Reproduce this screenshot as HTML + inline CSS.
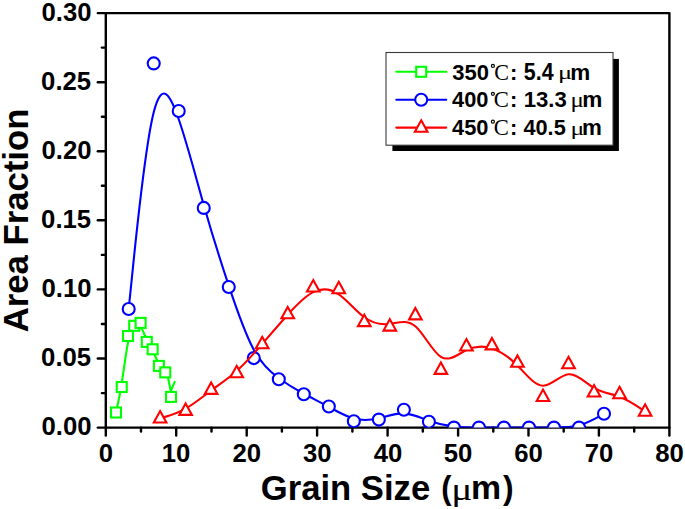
<!DOCTYPE html><html><head><meta charset="utf-8"><style>html,body{margin:0;padding:0;background:#fff;width:685px;height:509px;overflow:hidden}svg{display:block}</style></head><body>
<svg width="685" height="509" viewBox="0 0 685 509">
<rect x="105.8" y="13.1" width="563.6" height="414.5" fill="none" stroke="#000" stroke-width="2.4" stroke-linejoin="round"/>
<line x1="105.8" y1="427.6" x2="105.8" y2="435.6" stroke="#000" stroke-width="2.4" stroke-linecap="round"/>
<line x1="141.0" y1="427.6" x2="141.0" y2="431.5" stroke="#000" stroke-width="2.4" stroke-linecap="round"/>
<line x1="176.2" y1="427.6" x2="176.2" y2="435.6" stroke="#000" stroke-width="2.4" stroke-linecap="round"/>
<line x1="211.5" y1="427.6" x2="211.5" y2="431.5" stroke="#000" stroke-width="2.4" stroke-linecap="round"/>
<line x1="246.7" y1="427.6" x2="246.7" y2="435.6" stroke="#000" stroke-width="2.4" stroke-linecap="round"/>
<line x1="281.9" y1="427.6" x2="281.9" y2="431.5" stroke="#000" stroke-width="2.4" stroke-linecap="round"/>
<line x1="317.1" y1="427.6" x2="317.1" y2="435.6" stroke="#000" stroke-width="2.4" stroke-linecap="round"/>
<line x1="352.4" y1="427.6" x2="352.4" y2="431.5" stroke="#000" stroke-width="2.4" stroke-linecap="round"/>
<line x1="387.6" y1="427.6" x2="387.6" y2="435.6" stroke="#000" stroke-width="2.4" stroke-linecap="round"/>
<line x1="422.8" y1="427.6" x2="422.8" y2="431.5" stroke="#000" stroke-width="2.4" stroke-linecap="round"/>
<line x1="458.1" y1="427.6" x2="458.1" y2="435.6" stroke="#000" stroke-width="2.4" stroke-linecap="round"/>
<line x1="493.3" y1="427.6" x2="493.3" y2="431.5" stroke="#000" stroke-width="2.4" stroke-linecap="round"/>
<line x1="528.5" y1="427.6" x2="528.5" y2="435.6" stroke="#000" stroke-width="2.4" stroke-linecap="round"/>
<line x1="563.7" y1="427.6" x2="563.7" y2="431.5" stroke="#000" stroke-width="2.4" stroke-linecap="round"/>
<line x1="598.9" y1="427.6" x2="598.9" y2="435.6" stroke="#000" stroke-width="2.4" stroke-linecap="round"/>
<line x1="634.2" y1="427.6" x2="634.2" y2="431.5" stroke="#000" stroke-width="2.4" stroke-linecap="round"/>
<line x1="669.4" y1="427.6" x2="669.4" y2="435.6" stroke="#000" stroke-width="2.4" stroke-linecap="round"/>
<line x1="105.8" y1="427.6" x2="97.8" y2="427.6" stroke="#000" stroke-width="2.4" stroke-linecap="round"/>
<line x1="105.8" y1="393.1" x2="101.9" y2="393.1" stroke="#000" stroke-width="2.4" stroke-linecap="round"/>
<line x1="105.8" y1="358.5" x2="97.8" y2="358.5" stroke="#000" stroke-width="2.4" stroke-linecap="round"/>
<line x1="105.8" y1="324.0" x2="101.9" y2="324.0" stroke="#000" stroke-width="2.4" stroke-linecap="round"/>
<line x1="105.8" y1="289.4" x2="97.8" y2="289.4" stroke="#000" stroke-width="2.4" stroke-linecap="round"/>
<line x1="105.8" y1="254.9" x2="101.9" y2="254.9" stroke="#000" stroke-width="2.4" stroke-linecap="round"/>
<line x1="105.8" y1="220.3" x2="97.8" y2="220.3" stroke="#000" stroke-width="2.4" stroke-linecap="round"/>
<line x1="105.8" y1="185.8" x2="101.9" y2="185.8" stroke="#000" stroke-width="2.4" stroke-linecap="round"/>
<line x1="105.8" y1="151.3" x2="97.8" y2="151.3" stroke="#000" stroke-width="2.4" stroke-linecap="round"/>
<line x1="105.8" y1="116.7" x2="101.9" y2="116.7" stroke="#000" stroke-width="2.4" stroke-linecap="round"/>
<line x1="105.8" y1="82.2" x2="97.8" y2="82.2" stroke="#000" stroke-width="2.4" stroke-linecap="round"/>
<line x1="105.8" y1="47.6" x2="101.9" y2="47.6" stroke="#000" stroke-width="2.4" stroke-linecap="round"/>
<line x1="105.8" y1="13.1" x2="97.8" y2="13.1" stroke="#000" stroke-width="2.4" stroke-linecap="round"/>
<defs><clipPath id="pc"><rect x="105.8" y="13.1" width="563.60" height="414.50"/></clipPath></defs>
<g clip-path="url(#pc)" stroke-linecap="round" stroke-linejoin="round">
<path d="M116.00,412.50 C116.00,412.50 116.00,412.50 116.96,408.25 C117.92,404.00 119.83,395.50 121.83,382.75 C123.83,370.00 125.92,353.00 127.99,342.80 C130.07,332.60 132.13,329.20 134.23,327.02 C136.33,324.83 138.47,323.87 140.57,326.55 C142.67,329.23 144.73,335.57 146.74,339.97 C148.75,344.37 150.70,346.83 152.72,350.83 C154.73,354.83 156.82,360.37 158.92,364.22 C161.02,368.07 163.13,370.23 164.19,371.32 C165.25,372.40 165.25,372.40 165.25,372.40 L167.6,375.5 L170.8,391.2 L174.7,381.8" fill="none" stroke="#00ff00" stroke-width="2.1"/>
<rect x="111.00" y="407.50" width="10" height="10" fill="#fff" stroke="#00ff00" stroke-width="2.1" stroke-linejoin="miter"/>
<rect x="116.75" y="382.00" width="10" height="10" fill="#fff" stroke="#00ff00" stroke-width="2.1" stroke-linejoin="miter"/>
<rect x="123.00" y="331.00" width="10" height="10" fill="#fff" stroke="#00ff00" stroke-width="2.1" stroke-linejoin="miter"/>
<rect x="129.20" y="320.80" width="10" height="10" fill="#fff" stroke="#00ff00" stroke-width="2.1" stroke-linejoin="miter"/>
<rect x="135.60" y="317.90" width="10" height="10" fill="#fff" stroke="#00ff00" stroke-width="2.1" stroke-linejoin="miter"/>
<rect x="141.80" y="336.90" width="10" height="10" fill="#fff" stroke="#00ff00" stroke-width="2.1" stroke-linejoin="miter"/>
<rect x="147.65" y="344.30" width="10" height="10" fill="#fff" stroke="#00ff00" stroke-width="2.1" stroke-linejoin="miter"/>
<rect x="153.90" y="360.90" width="10" height="10" fill="#fff" stroke="#00ff00" stroke-width="2.1" stroke-linejoin="miter"/>
<rect x="160.25" y="367.40" width="10" height="10" fill="#fff" stroke="#00ff00" stroke-width="2.1" stroke-linejoin="miter"/>
<rect x="166.00" y="391.90" width="10" height="10" fill="#fff" stroke="#00ff00" stroke-width="2.1" stroke-linejoin="miter"/>
<path d="M128.70,309.00 C128.70,309.00 128.70,309.00 132.87,268.07 C137.04,227.13 145.38,145.27 153.72,112.27 C162.05,79.27 170.39,95.13 178.73,119.22 C187.07,143.30 195.41,175.60 203.75,204.93 C212.09,234.27 220.43,260.63 228.76,285.67 C237.10,310.70 245.44,334.40 253.78,349.78 C262.12,365.17 270.46,372.23 278.80,378.25 C287.13,384.27 295.47,389.23 303.81,393.77 C312.15,398.30 320.49,402.40 328.83,406.92 C337.17,411.43 345.51,416.37 353.84,418.55 C362.18,420.73 370.52,420.17 378.86,418.23 C387.20,416.30 395.54,413.00 403.88,413.37 C412.21,413.73 420.55,417.77 428.89,420.75 C437.23,423.73 445.57,425.67 453.91,426.63 C462.25,427.60 470.59,427.60 478.92,427.60 C487.26,427.60 495.60,427.60 503.94,427.60 C512.28,427.60 520.62,427.60 528.96,427.60 C537.29,427.60 545.63,427.60 553.97,427.60 C562.31,427.60 570.65,427.60 578.99,425.30 C587.33,423.00 595.67,418.40 599.83,416.10 C604.00,413.80 604.00,413.80 604.00,413.80" fill="none" stroke="#0000ff" stroke-width="2.1"/>
<circle cx="128.70" cy="309.00" r="6" fill="#fff" stroke="#0000ff" stroke-width="2.1" stroke-linejoin="miter"/>
<circle cx="153.72" cy="63.40" r="6" fill="#fff" stroke="#0000ff" stroke-width="2.1" stroke-linejoin="miter"/>
<circle cx="178.73" cy="111.00" r="6" fill="#fff" stroke="#0000ff" stroke-width="2.1" stroke-linejoin="miter"/>
<circle cx="203.75" cy="207.90" r="6" fill="#fff" stroke="#0000ff" stroke-width="2.1" stroke-linejoin="miter"/>
<circle cx="228.76" cy="287.00" r="6" fill="#fff" stroke="#0000ff" stroke-width="2.1" stroke-linejoin="miter"/>
<circle cx="253.78" cy="358.10" r="6" fill="#fff" stroke="#0000ff" stroke-width="2.1" stroke-linejoin="miter"/>
<circle cx="278.80" cy="379.30" r="6" fill="#fff" stroke="#0000ff" stroke-width="2.1" stroke-linejoin="miter"/>
<circle cx="303.81" cy="394.20" r="6" fill="#fff" stroke="#0000ff" stroke-width="2.1" stroke-linejoin="miter"/>
<circle cx="328.83" cy="406.50" r="6" fill="#fff" stroke="#0000ff" stroke-width="2.1" stroke-linejoin="miter"/>
<circle cx="353.84" cy="421.30" r="6" fill="#fff" stroke="#0000ff" stroke-width="2.1" stroke-linejoin="miter"/>
<circle cx="378.86" cy="419.60" r="6" fill="#fff" stroke="#0000ff" stroke-width="2.1" stroke-linejoin="miter"/>
<circle cx="403.88" cy="409.70" r="6" fill="#fff" stroke="#0000ff" stroke-width="2.1" stroke-linejoin="miter"/>
<circle cx="428.89" cy="421.80" r="6" fill="#fff" stroke="#0000ff" stroke-width="2.1" stroke-linejoin="miter"/>
<circle cx="453.91" cy="427.60" r="6" fill="#fff" stroke="#0000ff" stroke-width="2.1" stroke-linejoin="miter"/>
<circle cx="478.92" cy="427.60" r="6" fill="#fff" stroke="#0000ff" stroke-width="2.1" stroke-linejoin="miter"/>
<circle cx="503.94" cy="427.60" r="6" fill="#fff" stroke="#0000ff" stroke-width="2.1" stroke-linejoin="miter"/>
<circle cx="528.96" cy="427.60" r="6" fill="#fff" stroke="#0000ff" stroke-width="2.1" stroke-linejoin="miter"/>
<circle cx="553.97" cy="427.60" r="6" fill="#fff" stroke="#0000ff" stroke-width="2.1" stroke-linejoin="miter"/>
<circle cx="578.99" cy="427.60" r="6" fill="#fff" stroke="#0000ff" stroke-width="2.1" stroke-linejoin="miter"/>
<circle cx="604.00" cy="413.80" r="6" fill="#fff" stroke="#0000ff" stroke-width="2.1" stroke-linejoin="miter"/>
<path d="M160.10,418.40 C160.10,418.40 160.10,418.40 164.35,417.13 C168.61,415.87 177.12,413.33 185.63,408.57 C194.13,403.80 202.64,396.80 211.15,390.52 C219.66,384.23 228.17,378.67 236.68,371.05 C245.19,363.43 253.70,353.77 262.20,343.95 C270.71,334.13 279.22,324.17 287.73,314.72 C296.24,305.27 304.75,296.33 313.26,292.15 C321.76,287.97 330.27,288.53 338.78,294.30 C347.29,300.07 355.80,311.03 364.31,317.27 C372.82,323.50 381.33,325.00 389.83,323.88 C398.34,322.77 406.85,319.03 415.36,326.25 C423.87,333.47 432.38,351.63 440.89,356.82 C449.39,362.00 457.90,354.20 466.41,350.12 C474.92,346.03 483.43,345.67 491.94,348.38 C500.45,351.10 508.96,356.90 517.46,365.50 C525.97,374.10 534.48,385.50 542.99,385.73 C551.50,385.97 560.01,375.03 568.52,374.28 C577.02,373.53 585.53,382.97 594.04,387.97 C602.55,392.97 611.06,393.53 619.57,396.73 C628.08,399.93 636.59,405.77 640.84,408.68 C645.09,411.60 645.09,411.60 645.09,411.60" fill="none" stroke="#ff0000" stroke-width="2.1"/>
<path d="M160.10,411.10 L166.40,422.50 L153.80,422.50 Z" fill="#fff" stroke="#ff0000" stroke-width="2.1" stroke-linejoin="miter"/>
<path d="M185.63,403.50 L191.93,414.90 L179.33,414.90 Z" fill="#fff" stroke="#ff0000" stroke-width="2.1" stroke-linejoin="miter"/>
<path d="M211.15,382.50 L217.45,393.90 L204.85,393.90 Z" fill="#fff" stroke="#ff0000" stroke-width="2.1" stroke-linejoin="miter"/>
<path d="M236.68,365.80 L242.98,377.20 L230.38,377.20 Z" fill="#fff" stroke="#ff0000" stroke-width="2.1" stroke-linejoin="miter"/>
<path d="M262.20,336.80 L268.50,348.20 L255.90,348.20 Z" fill="#fff" stroke="#ff0000" stroke-width="2.1" stroke-linejoin="miter"/>
<path d="M287.73,306.90 L294.03,318.30 L281.43,318.30 Z" fill="#fff" stroke="#ff0000" stroke-width="2.1" stroke-linejoin="miter"/>
<path d="M313.26,280.10 L319.56,291.50 L306.96,291.50 Z" fill="#fff" stroke="#ff0000" stroke-width="2.1" stroke-linejoin="miter"/>
<path d="M338.78,281.80 L345.08,293.20 L332.48,293.20 Z" fill="#fff" stroke="#ff0000" stroke-width="2.1" stroke-linejoin="miter"/>
<path d="M364.31,314.70 L370.61,326.10 L358.01,326.10 Z" fill="#fff" stroke="#ff0000" stroke-width="2.1" stroke-linejoin="miter"/>
<path d="M389.83,319.20 L396.13,330.60 L383.53,330.60 Z" fill="#fff" stroke="#ff0000" stroke-width="2.1" stroke-linejoin="miter"/>
<path d="M415.36,308.00 L421.66,319.40 L409.06,319.40 Z" fill="#fff" stroke="#ff0000" stroke-width="2.1" stroke-linejoin="miter"/>
<path d="M440.89,362.50 L447.19,373.90 L434.59,373.90 Z" fill="#fff" stroke="#ff0000" stroke-width="2.1" stroke-linejoin="miter"/>
<path d="M466.41,339.10 L472.71,350.50 L460.11,350.50 Z" fill="#fff" stroke="#ff0000" stroke-width="2.1" stroke-linejoin="miter"/>
<path d="M491.94,338.00 L498.24,349.40 L485.64,349.40 Z" fill="#fff" stroke="#ff0000" stroke-width="2.1" stroke-linejoin="miter"/>
<path d="M517.46,355.40 L523.76,366.80 L511.16,366.80 Z" fill="#fff" stroke="#ff0000" stroke-width="2.1" stroke-linejoin="miter"/>
<path d="M542.99,389.60 L549.29,401.00 L536.69,401.00 Z" fill="#fff" stroke="#ff0000" stroke-width="2.1" stroke-linejoin="miter"/>
<path d="M568.52,356.80 L574.82,368.20 L562.22,368.20 Z" fill="#fff" stroke="#ff0000" stroke-width="2.1" stroke-linejoin="miter"/>
<path d="M594.04,385.10 L600.34,396.50 L587.74,396.50 Z" fill="#fff" stroke="#ff0000" stroke-width="2.1" stroke-linejoin="miter"/>
<path d="M619.57,386.80 L625.87,398.20 L613.27,398.20 Z" fill="#fff" stroke="#ff0000" stroke-width="2.1" stroke-linejoin="miter"/>
<path d="M645.09,404.30 L651.39,415.70 L638.79,415.70 Z" fill="#fff" stroke="#ff0000" stroke-width="2.1" stroke-linejoin="miter"/>
</g>
<rect x="392.4" y="58.9" width="226.5" height="92.1" fill="#000"/>
<rect x="386" y="52.5" width="227" height="92.7" fill="#fff" stroke="#3a3a3a" stroke-width="1.1"/>
<line x1="396.3" y1="71.8" x2="446.2" y2="71.8" stroke="#00ff00" stroke-width="2.1" stroke-linecap="round"/>
<rect x="416.20" y="66.80" width="10" height="10" fill="#fff" stroke="#00ff00" stroke-width="2.1" stroke-linejoin="miter"/>
<circle cx="492.9" cy="65.90" r="1.5" fill="none" stroke="#000" stroke-width="1.2"/>
<line x1="396.3" y1="99.69999999999999" x2="446.2" y2="99.69999999999999" stroke="#0000ff" stroke-width="2.1" stroke-linecap="round"/>
<circle cx="421.20" cy="99.70" r="6" fill="#fff" stroke="#0000ff" stroke-width="2.1" stroke-linejoin="miter"/>
<circle cx="492.9" cy="93.80" r="1.5" fill="none" stroke="#000" stroke-width="1.2"/>
<line x1="396.3" y1="127.6" x2="446.2" y2="127.6" stroke="#ff0000" stroke-width="2.1" stroke-linecap="round"/>
<path d="M421.20,120.30 L427.50,131.70 L414.90,131.70 Z" fill="#fff" stroke="#ff0000" stroke-width="2.1" stroke-linejoin="miter"/>
<circle cx="492.9" cy="121.70" r="1.5" fill="none" stroke="#000" stroke-width="1.2"/>
<text transform="translate(41.50,435.40) scale(1.0161,1.0446)" style="font-family:'Liberation Sans';font-weight:bold;font-size:25.3px">0.00</text>
<text transform="translate(41.09,366.37) scale(1.0161,1.0446)" style="font-family:'Liberation Sans';font-weight:bold;font-size:25.3px">0.05</text>
<text transform="translate(41.55,297.28) scale(1.0161,1.0446)" style="font-family:'Liberation Sans';font-weight:bold;font-size:25.3px">0.10</text>
<text transform="translate(41.09,228.20) scale(1.0161,1.0446)" style="font-family:'Liberation Sans';font-weight:bold;font-size:25.3px">0.15</text>
<text transform="translate(41.55,159.12) scale(1.0161,1.0446)" style="font-family:'Liberation Sans';font-weight:bold;font-size:25.3px">0.20</text>
<text transform="translate(41.09,90.03) scale(1.0161,1.0446)" style="font-family:'Liberation Sans';font-weight:bold;font-size:25.3px">0.25</text>
<text transform="translate(41.55,20.95) scale(1.0161,1.0446)" style="font-family:'Liberation Sans';font-weight:bold;font-size:25.3px">0.30</text>
<text transform="translate(98.63,461.80) scale(1.0161,1.0446)" style="font-family:'Liberation Sans';font-weight:bold;font-size:25.3px">0</text>
<text transform="translate(161.63,461.80) scale(1.0161,1.0446)" style="font-family:'Liberation Sans';font-weight:bold;font-size:25.3px">10</text>
<text transform="translate(232.47,461.80) scale(1.0161,1.0446)" style="font-family:'Liberation Sans';font-weight:bold;font-size:25.3px">20</text>
<text transform="translate(302.98,461.80) scale(1.0161,1.0446)" style="font-family:'Liberation Sans';font-weight:bold;font-size:25.3px">30</text>
<text transform="translate(373.65,461.80) scale(1.0161,1.0446)" style="font-family:'Liberation Sans';font-weight:bold;font-size:25.3px">40</text>
<text transform="translate(443.75,461.80) scale(1.0161,1.0446)" style="font-family:'Liberation Sans';font-weight:bold;font-size:25.3px">50</text>
<text transform="translate(514.26,461.80) scale(1.0161,1.0446)" style="font-family:'Liberation Sans';font-weight:bold;font-size:25.3px">60</text>
<text transform="translate(584.65,461.80) scale(1.0161,1.0446)" style="font-family:'Liberation Sans';font-weight:bold;font-size:25.3px">70</text>
<text transform="translate(655.20,461.80) scale(1.0161,1.0446)" style="font-family:'Liberation Sans';font-weight:bold;font-size:25.3px">80</text>
<text transform="translate(260.80,499.70) scale(1.0013,1.0300)" style="font-family:'Liberation Sans';font-weight:bold;font-size:34.6px">Grain Size</text>
<text transform="translate(441.16,499.42) scale(0.8952,0.9394)" style="font-family:'Liberation Sans';font-weight:bold;font-size:34.6px">(</text>
<text transform="translate(451.22,499.50) scale(1.1414,0.9000)" style="font-family:'Liberation Serif';font-weight:normal;font-size:34.6px">&#956;</text>
<text transform="translate(471.08,498.90) scale(0.9779,0.9579)" style="font-family:'Liberation Sans';font-weight:bold;font-size:34.6px">m</text>
<text transform="translate(502.89,499.42) scale(0.9179,0.9394)" style="font-family:'Liberation Sans';font-weight:bold;font-size:34.6px">)</text>
<text transform="translate(27.64,332.34) rotate(-90) scale(1.0035,1.0300)" style="font-family:'Liberation Sans';font-weight:bold;font-size:34.6px">Area Fraction</text>
<text transform="translate(452.18,79.60) scale(1.0096,1.0000)" style="font-family:'Liberation Sans';font-weight:bold;font-size:21.8px">350</text>
<text transform="translate(494.34,79.60) scale(0.9690,1.0133)" style="font-family:'Liberation Serif';font-weight:normal;font-size:22.8px">C</text>
<text transform="translate(510.10,79.60) scale(1.0096,1.0000)" style="font-family:'Liberation Sans';font-weight:bold;font-size:21.8px">:</text>
<text transform="translate(523.85,79.90) scale(0.9827,1.0733)" style="font-family:'Liberation Sans';font-weight:bold;font-size:21.8px">5.4</text>
<text transform="translate(557.94,78.84) scale(1.2151,0.8955)" style="font-family:'Liberation Serif';font-weight:normal;font-size:21.8px">&#956;</text>
<text transform="translate(570.16,79.70) scale(1.0312,0.9833)" style="font-family:'Liberation Sans';font-weight:bold;font-size:21.8px">m</text>
<text transform="translate(452.09,107.30) scale(1.0009,1.0133)" style="font-family:'Liberation Sans';font-weight:bold;font-size:21.8px">400</text>
<text transform="translate(493.71,107.30) scale(0.9921,1.0533)" style="font-family:'Liberation Serif';font-weight:normal;font-size:22.8px">C</text>
<text transform="translate(509.92,107.30) scale(1.0009,1.0133)" style="font-family:'Liberation Sans';font-weight:bold;font-size:21.8px">:</text>
<text transform="translate(523.63,107.30) scale(1.0158,1.0133)" style="font-family:'Liberation Sans';font-weight:bold;font-size:21.8px">13.3</text>
<text transform="translate(570.57,107.04) scale(1.1457,0.9156)" style="font-family:'Liberation Serif';font-weight:normal;font-size:21.8px">&#956;</text>
<text transform="translate(582.25,107.10) scale(1.0372,0.9833)" style="font-family:'Liberation Sans';font-weight:bold;font-size:21.8px">m</text>
<text transform="translate(452.09,135.30) scale(1.0009,1.0333)" style="font-family:'Liberation Sans';font-weight:bold;font-size:21.8px">450</text>
<text transform="translate(493.71,135.30) scale(0.9921,1.0533)" style="font-family:'Liberation Serif';font-weight:normal;font-size:22.8px">C</text>
<text transform="translate(509.92,135.30) scale(1.0009,1.0333)" style="font-family:'Liberation Sans';font-weight:bold;font-size:21.8px">:</text>
<text transform="translate(523.49,135.30) scale(0.9955,1.0467)" style="font-family:'Liberation Sans';font-weight:bold;font-size:21.8px">40.5</text>
<text transform="translate(570.40,134.84) scale(1.1804,0.8955)" style="font-family:'Liberation Serif';font-weight:normal;font-size:21.8px">&#956;</text>
<text transform="translate(582.07,135.30) scale(1.0252,0.9917)" style="font-family:'Liberation Sans';font-weight:bold;font-size:21.8px">m</text>
</svg></body></html>
